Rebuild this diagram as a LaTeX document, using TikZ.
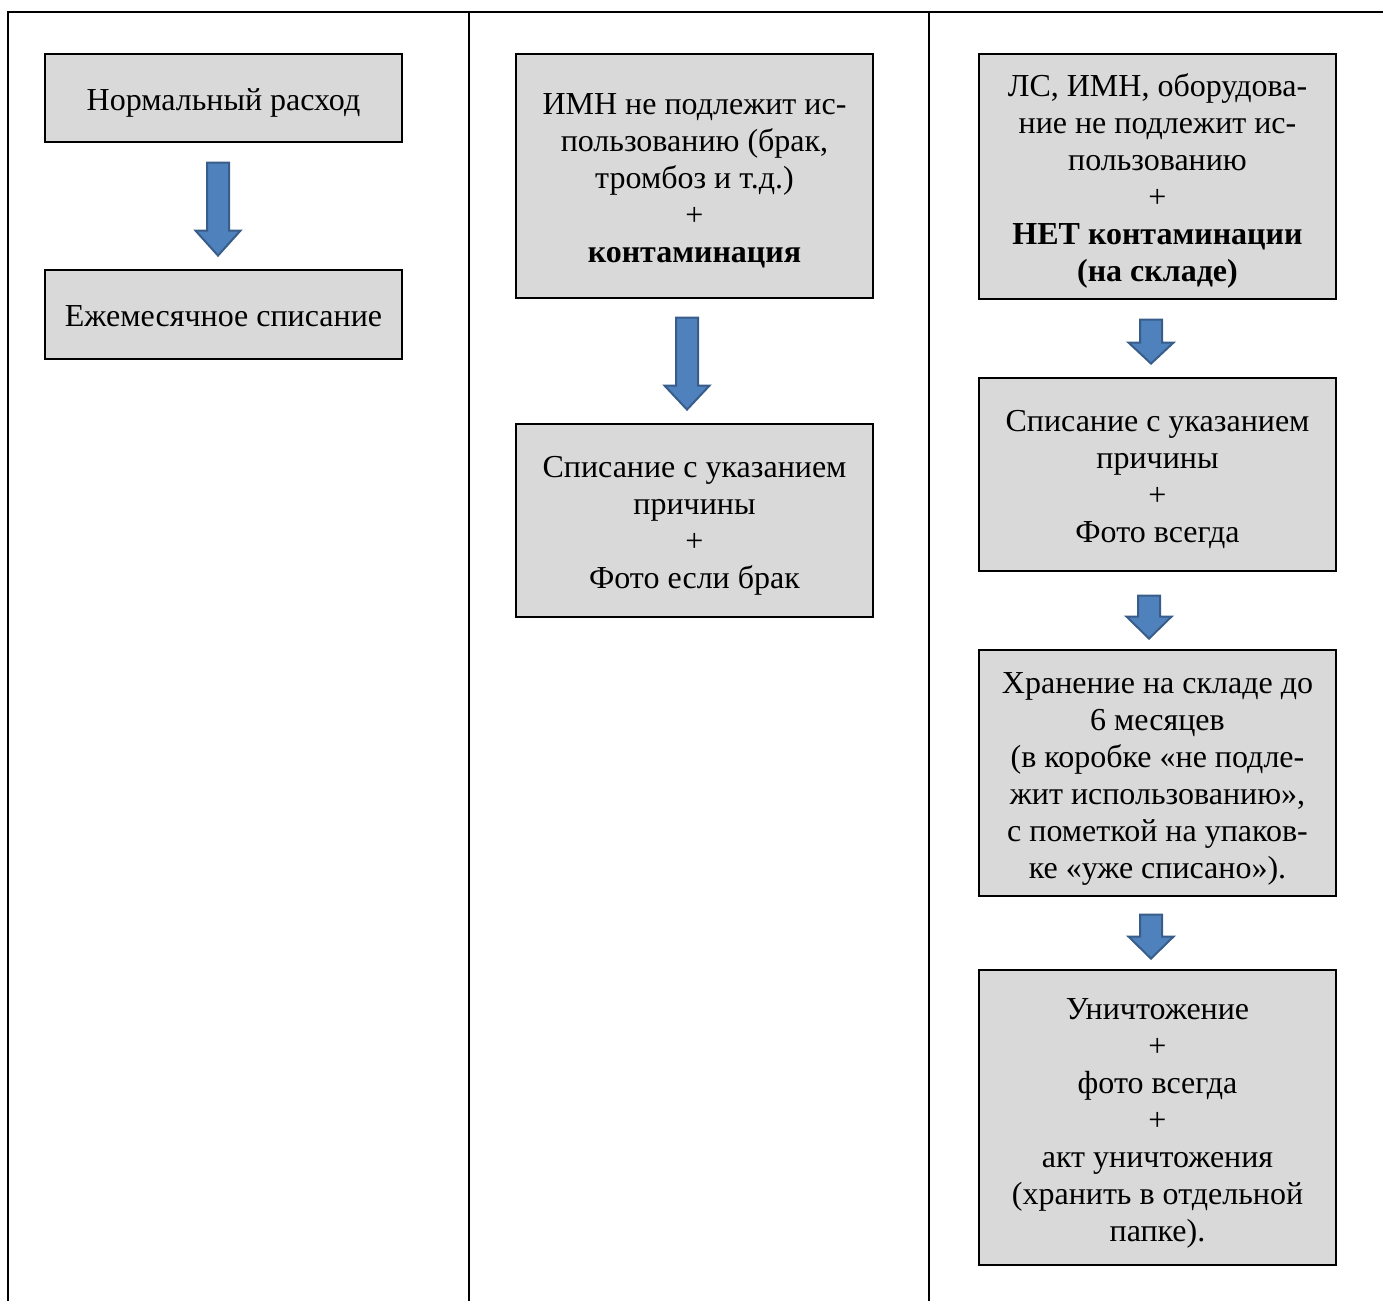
\documentclass[tikz,border=0pt]{standalone}
\usepackage{fontspec}
\setmainfont{Liberation Serif}
\usetikzlibrary{calc}
\definecolor{boxgray}{HTML}{D9D9D9}
\definecolor{arrfill}{HTML}{4F81BD}
\definecolor{arrdraw}{HTML}{385D8A}
\newcommand\fstl{\rule{0pt}{24pt}}
\newcommand\lstl{\rule[-5.25pt]{0pt}{5.25pt}}
\begin{document}
\begin{tikzpicture}[x=0.75pt,y=-0.75pt,
  box/.style={draw=black, line width=0.9pt, fill=boxgray, align=center,
    font=\fontsize{24}{27.75}\selectfont, inner sep=0pt, minimum width=267.75pt},
  arrowstyle/.style={fill=arrfill, draw=arrdraw, line width=1.5pt, line join=miter},
  pics/blkarrow/.style args={#1/#2}{code={
    \draw[arrowstyle] (-11,0) -- (11,0) -- (11,#1) -- (22.5,#1) -- (0,#2) -- (-22.5,#1) -- (-11,#1) -- cycle;}},
  frame/.style={line width=1.5pt, draw=black}]
\useasboundingbox (0,0) rectangle (1383,1301);
% frame lines
\draw[frame] (1383,12) -- (8,12) -- (8,1301);
\draw[frame] (469,12) -- (469,1301);
\draw[frame] (929,12) -- (929,1301);
% column 1
\node[box, minimum height=66pt] (b1) at (223.5,98) {\fstl Нормальный расход\lstl};
\node[box, minimum height=66.75pt] (b2) at (223.5,314.5) {\fstl Ежемесячное списание\lstl};
% column 2
\node[box, minimum height=183pt] (b3) at (694.5,176) {\fstl ИМН не подлежит ис-\\пользованию (брак,\\тромбоз и т.д.)\\+\\\textbf{контаминация}\lstl};
\node[box, minimum height=144.75pt] (b4) at (694.5,520.5) {\fstl Списание с указанием\\причины\\+\\Фото если брак\lstl};
% column 3
\node[box, minimum height=183.75pt] (b5) at (1157.5,176.5) {\fstl ЛС, ИМН, оборудова-\\ние не подлежит ис-\\пользованию\\+\\\textbf{НЕТ контаминации}\\\textbf{(на складе)}\lstl};
\node[box, minimum height=144.75pt] (b6) at (1157.5,474.5) {\fstl Списание с указанием\\причины\\+\\Фото всегда\lstl};
\node[box, minimum height=184.5pt] (b7) at (1157.5,773) {\fstl Хранение на складе до\\6 месяцев\\(в коробке «не подле-\\жит использованию»,\\с пометкой на упаков-\\ке «уже списано»).\lstl};
\node[box, minimum height=221.25pt] (b8) at (1157.5,1117.5) {\fstl Уничтожение\\+\\фото всегда\\+\\акт уничтожения\\(хранить в отдельной\\папке).\lstl};
% arrows
\pic at ($(b1.south)+(-5.5,20)$) {blkarrow={68/93}};
\pic at ($(b3.south)+(-7.5,19)$) {blkarrow={68/92}};
\pic at ($(b5.south)+(-6.5,20)$) {blkarrow={23/44}};
\pic at ($(b6.south)+(-8.5,24)$) {blkarrow={21/43}};
\pic at ($(b7.south)+(-6.5,18)$) {blkarrow={22/44}};
\end{tikzpicture}
\end{document}
